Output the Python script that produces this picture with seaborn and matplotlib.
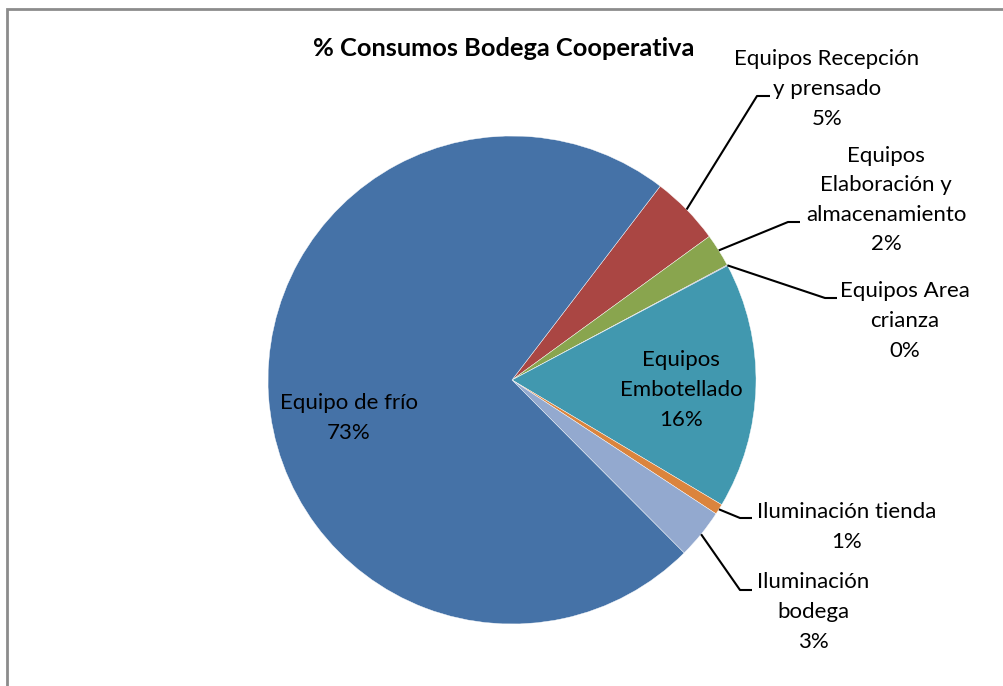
import numpy as np
import matplotlib
matplotlib.use("Agg")
import matplotlib.pyplot as plt
from matplotlib.patches import Rectangle
import seaborn as sns

# ---- data ----
categories = ["Equipos Recepción\ny prensado", "Equipos\nElaboración y\nalmacenamiento",
              "Equipos Area\ncrianza", "Equipos\nEmbotellado", "Iluminación tienda",
              "Iluminación\nbodega", "Equipo de frío"]
values = [4.6, 2.2, 0.05, 16.3, 0.7, 3.3, 72.85]
pct_labels = ["5%", "2%", "0%", "16%", "1%", "3%", "73%"]
colors = ["#AA4643", "#89A54E", "#71588F", "#4198AF", "#DB843D", "#93A9CF", "#4572A7"]
title = "% Consumos Bodega Cooperativa"

sns.set_theme(style="white")
plt.rcParams['font.family'] = ['Lato', 'DejaVu Sans']

W, H = 1004, 686
fig = plt.figure(figsize=(W / 100, H / 100), dpi=100)
ax = fig.add_axes([0, 0, 1, 1])

cx, cy, R = 512, H - 380, 244
wedges, _ = ax.pie(values, colors=colors, startangle=90 - 37.4, counterclock=False,
                   center=(cx, cy), radius=R, frame=True,
                   wedgeprops=dict(edgecolor='white', linewidth=0.3))
ax.set_xlim(0, W)
ax.set_ylim(0, H)
ax.set_aspect('equal')
ax.axis('off')

fs = 16
ls = 1.6
# inside labels
inside = {6: (349, 418), 3: (681, 390)}
for i, (x, y) in inside.items():
    ax.text(x, H - y, categories[i] + "\n" + pct_labels[i], ha='center', va='center',
            fontsize=fs, color='black', linespacing=ls)

# outside labels: (elbow point, elbow end, text center)
outside = {
    0: ((757, 96), (770, 96), (827, 89)),
    1: ((788, 222), (800, 222), (886, 200)),
    2: ((825, 298), (837, 298), (905, 321)),
    4: ((740, 518), (752, 518), (847, 527)),
    5: ((740, 590), (752, 590), (813, 612)),
}
for i, (p1, p2, tc) in outside.items():
    w = wedges[i]
    mid = np.deg2rad((w.theta1 + w.theta2) / 2)
    sx, sy = cx + R * np.cos(mid), cy + R * np.sin(mid)
    ax.plot([sx, p1[0], p2[0]], [sy, H - p1[1], H - p2[1]], color='black', lw=1.5,
            solid_capstyle='butt')
    ax.text(tc[0], H - tc[1], categories[i] + "\n" + pct_labels[i], ha='center',
            va='center', fontsize=fs, color='black', linespacing=ls)

ax.text(504, H - 49, title, ha='center', va='center', fontsize=18.3,
        fontweight='bold', color='black')

# chart frame
fig.patches.append(Rectangle((6.5, -50), 1100, H - 9 + 50, transform=None,
                             fill=False, edgecolor='#8c8c8c', linewidth=2))

fig.savefig("out.png", dpi=100)
